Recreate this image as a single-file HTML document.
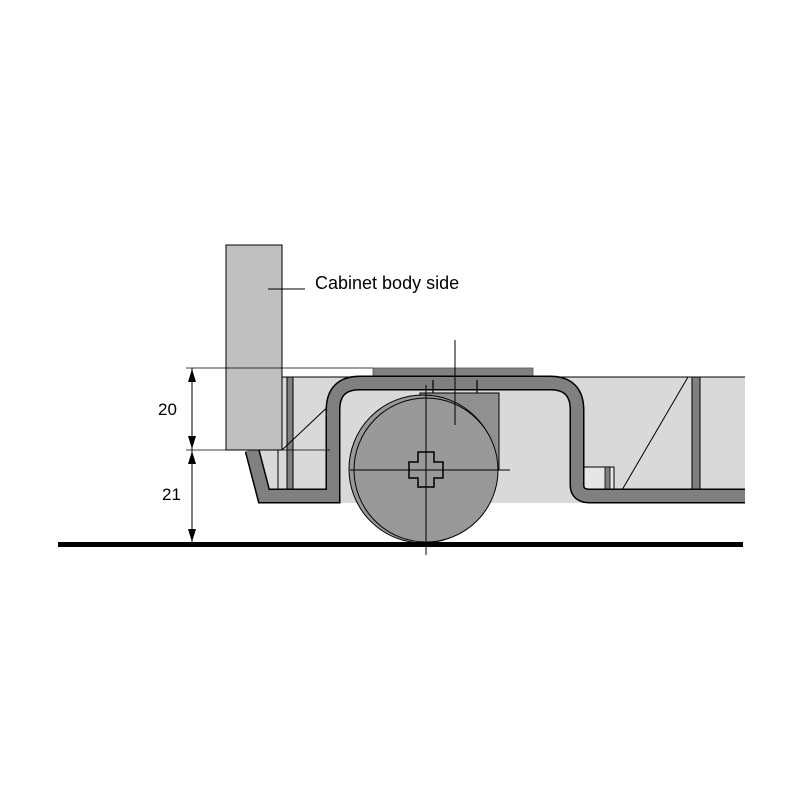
<!DOCTYPE html>
<html><head><style>body{margin:0;background:#fff}svg{display:block}</style></head>
<body>
<svg width="800" height="800" viewBox="0 0 800 800" xmlns="http://www.w3.org/2000/svg">
<rect width="800" height="800" fill="#fff"/>
<rect x="282" y="377" width="463" height="126" fill="#d9d9d9"/>
<line x1="282" y1="377" x2="745" y2="377" stroke="#000" stroke-width="1"/>
<polygon points="246,450 258,450 270,490 333,490 333,503 258,503" fill="#d9d9d9"/>
<rect x="282" y="490" width="52" height="13" fill="#fff"/>
<rect x="258" y="450" width="80" height="40" fill="#d9d9d9"/>
<rect x="373" y="368" width="160" height="9" fill="#808080" stroke="#555" stroke-width="0.8"/>
<rect x="287" y="377" width="6" height="113" fill="#808080" stroke="#000" stroke-width="1"/>
<line x1="278" y1="450" x2="278" y2="490" stroke="#000" stroke-width="1"/>
<rect x="692" y="377" width="8" height="113" fill="#808080" stroke="#000" stroke-width="1"/>
<line x1="282" y1="450" x2="335" y2="400" stroke="#000" stroke-width="1"/>
<line x1="622" y1="490" x2="688" y2="377" stroke="#000" stroke-width="1"/>
<rect x="584" y="467" width="30" height="23" fill="#e6e6e6" stroke="#000" stroke-width="1"/>
<rect x="605" y="467" width="5" height="23" fill="#808080" stroke="#000" stroke-width="0.8"/>
<path d="M252,450 L264,496 L333,496 L333,410 Q333,383 360,383 L550,383 Q577,383 577,410 L577,485 Q577,496 590,496 L745,496" fill="none" stroke="#000" stroke-width="15" stroke-linejoin="miter"/>
<path d="M252,450 L264,496 L333,496 L333,410 Q333,383 360,383 L550,383 Q577,383 577,410 L577,485 Q577,496 590,496 L745,496" fill="none" stroke="#808080" stroke-width="12" stroke-linejoin="miter"/>
<rect x="745" y="370" width="20" height="140" fill="#fff"/>
<rect x="420" y="393" width="79" height="77" fill="#909090" stroke="#000" stroke-width="1"/>
<line x1="433" y1="380" x2="433" y2="393" stroke="#000" stroke-width="1.2"/>
<line x1="477" y1="380" x2="477" y2="393" stroke="#000" stroke-width="1.2"/>
<circle cx="423" cy="469" r="74" fill="#999" stroke="#000" stroke-width="1"/>
<circle cx="426" cy="470" r="72" fill="#999" stroke="#000" stroke-width="1"/>
<path d="M418,452 H434 V462 H443 V478 H434 V487 H418 V478 H409 V462 H418 Z" fill="#999" stroke="#000" stroke-width="1.5"/>
<line x1="426" y1="385" x2="426" y2="555" stroke="#000" stroke-width="1"/>
<line x1="350" y1="470" x2="510" y2="470" stroke="#000" stroke-width="1"/>
<line x1="455" y1="340" x2="455" y2="425" stroke="#000" stroke-width="1"/>
<rect x="226" y="245" width="56" height="205" fill="#c0c0c0" stroke="#000" stroke-width="1"/>
<line x1="268" y1="289" x2="305" y2="289" stroke="#000" stroke-width="1"/>
<text x="315" y="289" font-family="Liberation Sans, sans-serif" font-size="18" fill="#000">Cabinet body side</text>
<line x1="186" y1="368" x2="373" y2="368" stroke="#000" stroke-width="0.8"/>
<line x1="186" y1="450" x2="330" y2="450" stroke="#000" stroke-width="0.8"/>
<line x1="192" y1="368" x2="192" y2="543" stroke="#000" stroke-width="1"/>
<polygon points="192,369 188,382 196,382" fill="#000"/>
<polygon points="192,449 188,436 196,436" fill="#000"/>
<polygon points="192,451 188,464 196,464" fill="#000"/>
<polygon points="192,542 188,529 196,529" fill="#000"/>
<text x="158" y="415" font-family="Liberation Sans, sans-serif" font-size="17">20</text>
<text x="162" y="500" font-family="Liberation Sans, sans-serif" font-size="17">21</text>
<rect x="58" y="542" width="685" height="5" fill="#000"/>
</svg>
</body></html>
